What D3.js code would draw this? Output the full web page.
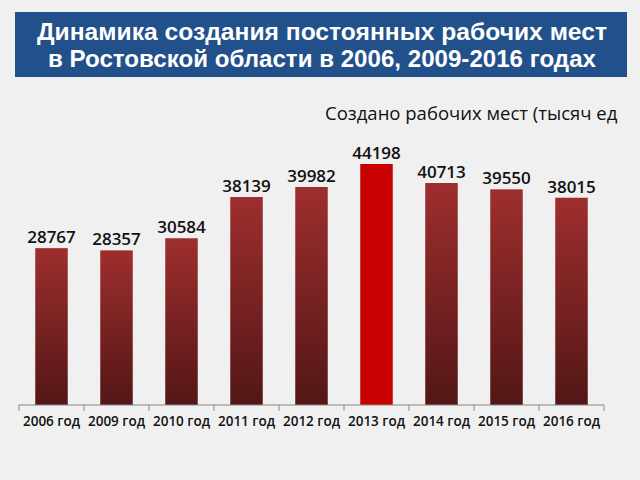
<!DOCTYPE html>
<html><head><meta charset="utf-8">
<script src="https://cdn.jsdelivr.net/npm/d3@7"></script>
<style>body{margin:0;background:#f0f0f0;}svg{display:block;}</style>
</head><body>
<script>
const categories = ["2006 год","2009 год","2010 год","2011 год","2012 год","2013 год","2014 год","2015 год","2016 год"];
const values = [28767, 28357, 30584, 38139, 39982, 44198, 40713, 39550, 38015];
const highlight = "2013 год";
const titleLines = ["Динамика создания постоянных рабочих мест","в Ростовской области в 2006, 2009-2016 годах"];
const seriesName = "Создано рабочих мест (тысяч ед";

const W = 640, H = 480;
const svg = d3.select("body").append("svg").attr("width", W).attr("height", H);
svg.append("rect").attr("width", W).attr("height", H).attr("fill", "#f0f0f0");

const defs = svg.append("defs");
const g1 = defs.append("linearGradient").attr("id","barGrad").attr("x1",0).attr("y1",0).attr("x2",0).attr("y2",1);
g1.append("stop").attr("offset","0%").attr("stop-color","#9e2e2e");
g1.append("stop").attr("offset","100%").attr("stop-color","#531616");

// title box
svg.append("rect").attr("x",15).attr("y",12).attr("width",612).attr("height",65).attr("fill","#21508a");
const fontT = "'Liberation Sans',Arial,sans-serif";
svg.append("g").selectAll("text").data(titleLines).join("text")
  .attr("x", 322).attr("y", (d,i)=>40+i*27)
  .attr("text-anchor","middle").attr("fill","#fff")
  .attr("font-family", fontT).attr("font-weight","bold").attr("font-size",23)
  .attr("textLength",(d,i)=>i===0?570:548).attr("lengthAdjust","spacingAndGlyphs")
  .text(d=>d);

svg.append("text").attr("x",325).attr("y",120).attr("fill","#111")
  .attr("font-family","'Open Sans','DejaVu Sans',sans-serif").attr("font-size",18.5)
  .text(seriesName);

const x = d3.scaleBand().domain(categories).range([19, 604]).paddingInner(0.5).paddingOuter(0.25);
const y = d3.scaleLinear().domain([0, 44198]).range([405, 164]);

svg.append("g").selectAll("rect").data(values).join("rect")
  .attr("x",(d,i)=>x(categories[i])).attr("width",x.bandwidth())
  .attr("y",d=>y(d)).attr("height",d=>y(0)-y(d))
  .attr("fill",(d,i)=>categories[i]===highlight?"#c80000":"url(#barGrad)");

svg.append("g").selectAll("text").data(values).join("text")
  .attr("x",(d,i)=>x(categories[i])+x.bandwidth()/2).attr("y",d=>y(d)-5)
  .attr("text-anchor","middle").attr("fill","#111")
  .attr("font-family","'Open Sans','DejaVu Sans',sans-serif").attr("font-weight",600).attr("font-size",17)
  .text(d=>d);

// axis
const xa = d3.scaleBand().domain(categories).range([19,604]);
const ax = svg.append("g").attr("transform","translate(0,405)");
ax.append("line").attr("x1",19).attr("x2",604).attr("stroke","#888");
ax.selectAll("line.t").data(d3.range(categories.length+1)).join("line").attr("class","t")
  .attr("x1",i=>19+i*xa.step()).attr("x2",i=>19+i*xa.step()).attr("y1",0).attr("y2",6).attr("stroke","#888");
ax.selectAll("text").data(categories).join("text")
  .attr("x",d=>xa(d)+xa.bandwidth()/2).attr("y",21)
  .attr("text-anchor","middle").attr("fill","#111")
  .attr("font-family","'Open Sans','DejaVu Sans',sans-serif").attr("font-weight",600).attr("font-size",13.5)
  .text(d=>d);
</script>
</body></html>
